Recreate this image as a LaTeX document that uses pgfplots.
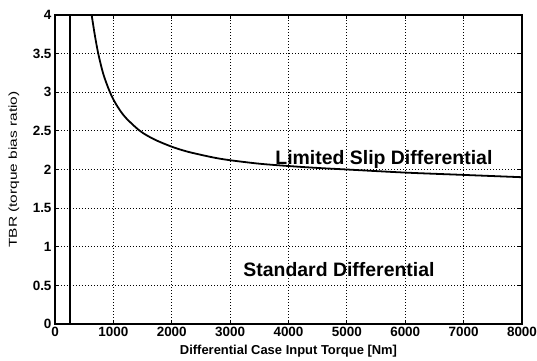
\documentclass[border=0pt]{standalone}
\usepackage{fontspec}
\setmainfont{Liberation Sans}
\usepackage{graphicx}
\usepackage{pgfplots}
\pgfplotsset{compat=1.18}
\begin{document}
\begin{tikzpicture}
\path[use as bounding box] (-55bp,-37bp) rectangle (482bp,324bp);
\begin{axis}[
  at={(0,0)}, anchor=south west,
  scale only axis, width=467bp, height=309bp,
  xmin=0, xmax=8000, ymin=0, ymax=4,
  xtick={0,1000,...,8000}, ytick={0,0.5,...,4},
  grid=major,
  major grid style={black, line width=0.8pt, dash pattern=on 1.2bp off 1.8bp},
  axis line style={black, line width=1.1pt},
  tick align=inside, major tick length=4bp, tick style={black, line width=0.8pt},
  /pgf/number format/1000 sep={},
  /pgf/number format/assume math mode=true,
  ticklabel style={font=\fontsize{13.5}{13.5}\selectfont\bfseries},
  xticklabel style={yshift=0bp},
  yticklabel style={xshift=0bp},
  xlabel={Differential Case Input Torque [Nm]},
  ylabel={\scalebox{1.35}[1]{TBR (torque bias ratio)}},
  xlabel style={font=\fontsize{13}{13}\selectfont\bfseries, at={(axis description cs:0.5,-0.1)}, anchor=base},
  ylabel style={font=\fontsize{11.5}{11.5}\selectfont, at={(axis description cs:-0.0878,0.5)}, anchor=center},
  clip=true,
]
\addplot[black, line width=1.5pt] coordinates {(260,0) (260,4)};
\addplot[black, line width=1.8pt, smooth] coordinates {
(628,4.0) (680,3.75) (741,3.5) (830,3.23) (942,3.0) (1050,2.84) (1200,2.68)
(1455,2.5) (1700,2.39) (2000,2.295) (2250,2.235) (2500,2.19) (2750,2.15) (3000,2.12)
(3500,2.075) (4000,2.045) (4500,2.02) (5000,2.0) (6000,1.96) (7000,1.93) (8000,1.90)};
\node[anchor=base west, font=\fontsize{19.5}{20}\selectfont\bfseries] at (axis cs:3716,2.06) {Limited Slip Differential};
\node[anchor=base west, font=\fontsize{19.5}{20}\selectfont\bfseries] at (axis cs:3168,0.61) {Standard Differential};
\end{axis}
\end{tikzpicture}
\end{document}
